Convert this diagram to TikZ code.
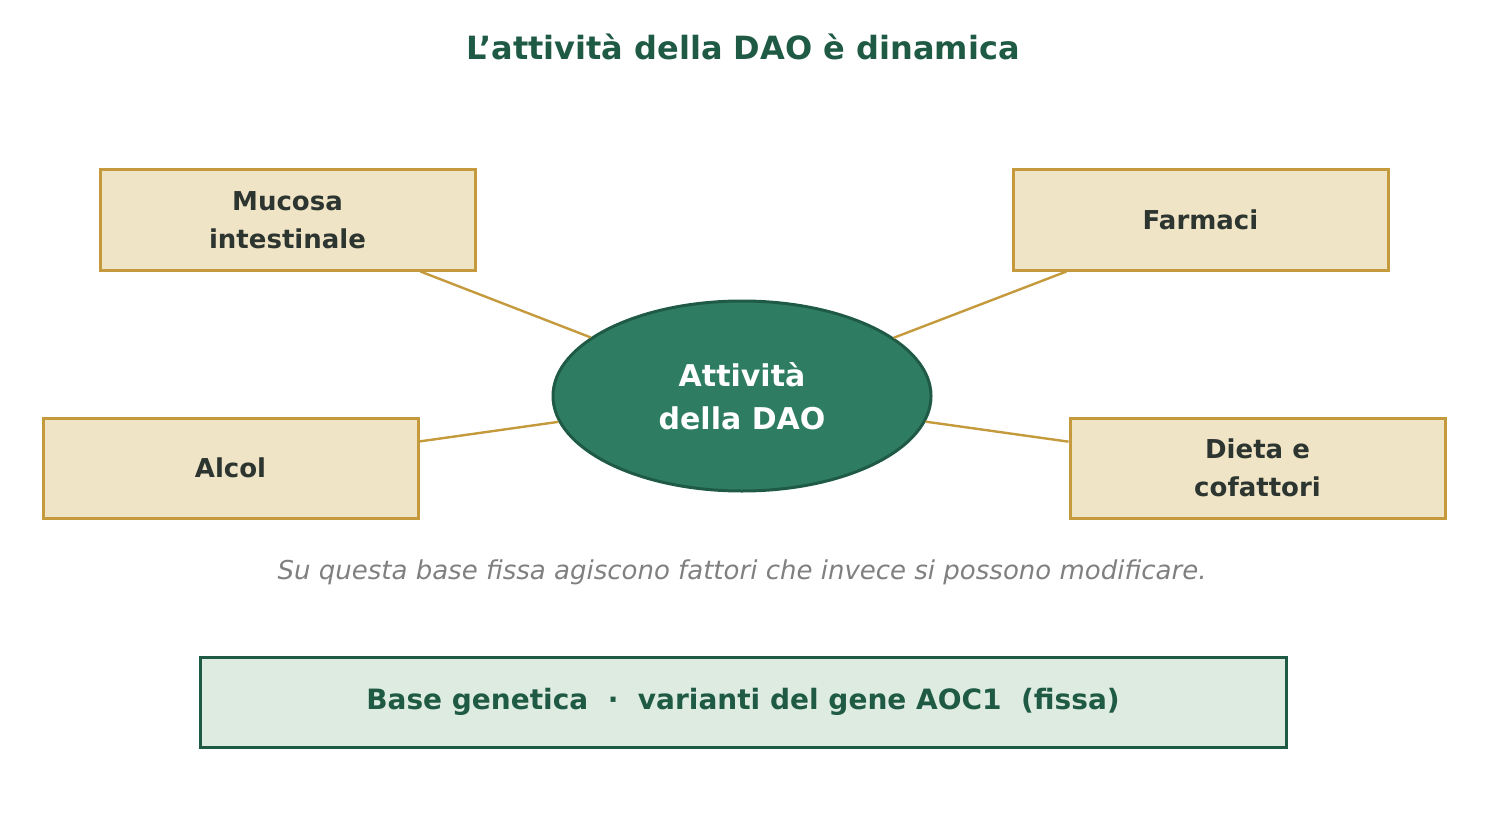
\documentclass[tikz,border=0pt]{standalone}
\usepackage{fontspec}
\setmainfont{DejaVu Sans}
\usetikzlibrary{positioning,shapes.geometric}
\definecolor{daogreen}{HTML}{1F5A45}
\definecolor{daofill}{HTML}{2E7D62}
\definecolor{sand}{HTML}{F0E4C6}
\definecolor{gold}{HTML}{C49A3C}
\definecolor{mint}{HTML}{DDEBE0}
\definecolor{ink}{HTML}{2D3530}
\tikzset{
  factor/.style={draw=gold,line width=1.5pt,fill=sand,minimum width=187.5pt,minimum height=50pt,
    align=center,text=ink,font=\fontsize{13}{19}\selectfont\bfseries},
  link/.style={draw=gold,line width=1.2pt}
}
\begin{document}
\begin{tikzpicture}[x=0.5pt,y=-0.5pt]
  \useasboundingbox (0,0) rectangle (1486,818);

  \node [text=daogreen,font=\fontsize{16}{19}\selectfont\bfseries] (title) at (743,47) {L'attività della DAO è dinamica};

  \node [factor] (mucosa) at (287.5,220) {Mucosa\\intestinale};
  \node [factor] (farmaci) at (1200.5,220) {Farmaci};
  \node [factor] (alcol) at (230.5,468) {Alcol};
  \node [factor] (dieta) at (1257.5,468) {Dieta e\\cofattori};

  \node [ellipse,draw=daogreen,line width=1.5pt,fill=daofill,minimum width=189pt,minimum height=95pt,
    inner sep=0pt,align=center,text=white,font=\fontsize{15}{21.5}\selectfont\bfseries] (dao) at (742,396) {Attività\\della DAO};

  % connectors
  \path [link]
    (mucosa) -- (dao)
    (farmaci) -- (dao)
    (alcol) -- (dao)
    (dieta) -- (dao);

  \node [text=gray,font=\fontsize{13}{16}\selectfont\itshape] (note) at (742,572) {Su questa base fissa agiscono fattori che invece si possono modificare.};

  \node [draw=daogreen,line width=1.5pt,fill=mint,minimum width=543pt,minimum height=45pt,
    text=daogreen,font=\fontsize{14}{17}\selectfont\bfseries] (base) at (743,702) {Base genetica~~·~~varianti del gene AOC1~~(fissa)};
\end{tikzpicture}
\end{document}
